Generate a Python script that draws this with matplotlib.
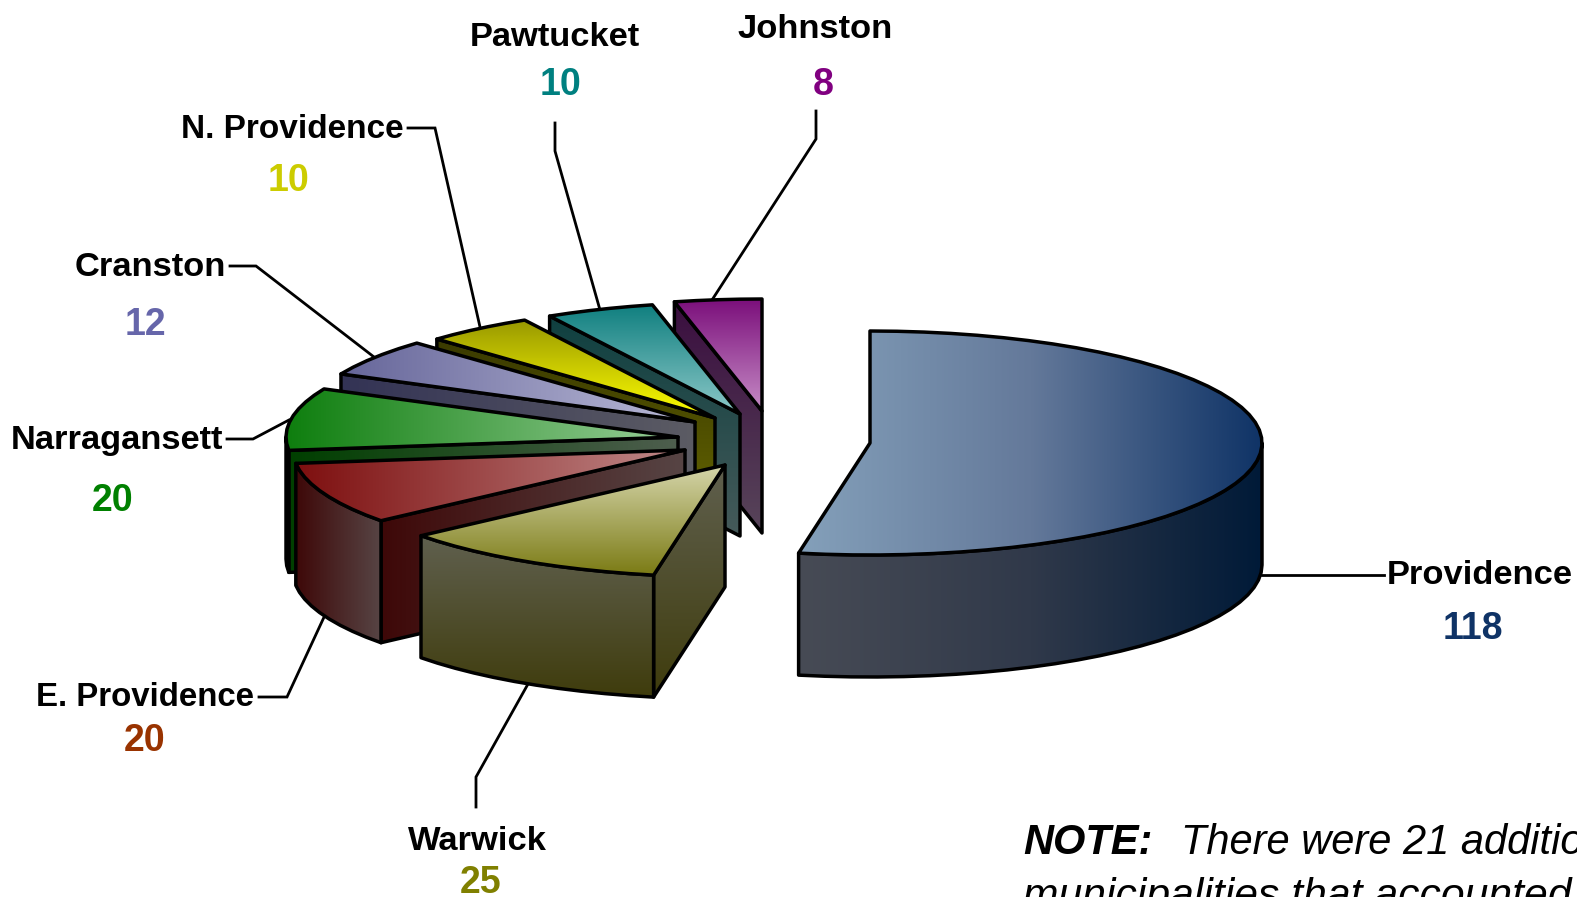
import numpy as np
import matplotlib
matplotlib.use("Agg")
import matplotlib.pyplot as plt
from matplotlib.colors import to_rgb
from matplotlib.patches import Polygon

# ---- data ----
names = ["Providence", "Warwick", "E. Providence", "Narragansett",
         "Cranston", "N. Providence", "Pawtucket", "Johnston"]
values = [118, 25, 20, 20, 12, 10, 10, 8]

# ---- styles (per slice) ----
apex = [(870, 443), (725, 465), (685, 450), (678, 437),
        (695, 422), (715, 418), (740, 414), (762, 411)]
direction = ["h", "v", "h", "h", "h", "v", "v", "v"]
top_cols = [("#84A0BA", "#64799A", "#0F3366"), ("#D6D6AC", "#7B7B14"), ("#7E0F0F", "#C08A8A"),
            ("#0E7E0E", "#98CE98"), ("#66669A", "#BBBBD8"), ("#999900", "#FFFF00"),
            ("#0F7F7F", "#8CC8C8"), ("#7B0F7B", "#C68CC6")]
wall_cols = [("#474B55", "#30394A", "#001A38"), ("#60604F", "#3F3C0C"), ("#3E0808", "#574545"),
             ("#003F00", "#4E5E4E"), ("#333355", "#5C5C64"), ("#3A3A00", "#6A6A00"),
             ("#0F4040", "#465A5A"), ("#3A0E3F", "#58455A")]
value_cols = ["#0F3366", "#808000", "#993300", "#008000",
              "#6666AA", "#CCCC00", "#008080", "#800080"]
name_sizes = [24.8, 24.8, 23.8, 24.8, 24.8, 24.0, 24.8, 24.8]
name_xy = [(1480, 576), (477, 842), (145, 698), (117, 441),
           (150, 268), (292, 130), (555, 38), (815, 30)]
value_xy = [(1473, 629), (481, 883), (145, 741), (113, 501),
            (145, 325), (289, 181), (561, 85), (823, 85)]
leaders = [[(1262, 575), (1384, 575)],
           [(476, 807), (476, 777), (528, 684)],
           [(259, 697), (287, 697), (325, 615)],
           [(227, 439), (253, 439), (289, 420)],
           [(230, 266), (256, 266), (374, 357)],
           [(408, 128), (435, 128), (480, 327)],
           [(555, 123), (555, 151), (600, 310)],
           [(816, 111), (816, 139), (712, 300)]]
RX, RY, DEPTH = 392, 112, 122
LW = 2.5
FONT = "Liberation Sans"

fig = plt.figure(figsize=(15.77, 8.97), dpi=100)
ax = fig.add_axes([0, 0, 1, 1])
ax.set_xlim(0, 1577)
ax.set_ylim(897, 0)
ax.axis("off")
ax.set_autoscale_on(False)


def gradient_poly(pts, cols, how, z):
    pts = np.asarray(pts)
    stops = np.array([to_rgb(c) for c in cols])
    pos = np.linspace(0, 1, len(cols))
    t = np.linspace(0, 1, 256)
    ramp = np.column_stack([np.interp(t, pos, stops[:, k]) for k in range(3)])
    img = ramp[None, :, :] if how == "h" else ramp[:, None, :]
    x0, x1, y0, y1 = pts[:, 0].min(), pts[:, 0].max(), pts[:, 1].min(), pts[:, 1].max()
    im = ax.imshow(img, extent=(x0, x1, y1, y0), aspect="auto",
                   interpolation="bilinear", zorder=z)
    clip = Polygon(pts, closed=True, transform=ax.transData)
    im.set_clip_path(clip)
    ax.add_patch(Polygon(pts, closed=True, fill=False, ec="black", lw=LW,
                         joinstyle="round", zorder=z + 0.1))


def arc(cx, cy, a, b, dy=0.0):
    n = max(2, int(abs(b - a) / 4) + 2)
    th = np.radians(np.linspace(a, b, n))
    return np.column_stack([cx + RX * np.sin(th), cy - RY * np.cos(th) + dy])


for pts in leaders:
    p = np.array(pts)
    ax.plot(p[:, 0], p[:, 1], color="black", lw=2.0, zorder=1,
            solid_joinstyle="miter")

edges = np.concatenate([[0], np.cumsum(values)]) / np.sum(values) * 360.0
draw_order = [7, 6, 5, 4, 3, 2, 1, 0]
z = 2
for i in draw_order:
    a, b = edges[i], edges[i + 1]
    cx, cy = apex[i]
    # wall along the first radial edge, when it faces the viewer
    if 180 < a < 360:
        e = arc(cx, cy, a, a)[0]
        wall = [(cx, cy), tuple(e), (e[0], e[1] + DEPTH), (cx, cy + DEPTH)]
        gradient_poly(wall, wall_cols[i], direction[i], z)
        z += 1
    # outer rim wall, for the front half
    ra, rb = max(a, 90), min(b, 270)
    if rb > ra:
        upper = arc(cx, cy, ra, rb)
        lower = arc(cx, cy, rb, ra, dy=DEPTH)
        gradient_poly(np.vstack([upper, lower]), wall_cols[i], direction[i], z)
        z += 1
    # top face
    top = np.vstack([[(cx, cy)], arc(cx, cy, a, b)])
    gradient_poly(top, top_cols[i], direction[i], z)
    z += 1

for n, v, nxy, vxy, col, fs in zip(names, values, name_xy, value_xy, value_cols, name_sizes):
    ax.text(*nxy, n, ha="center", va="center", fontsize=fs, fontweight="bold",
            family=FONT, color="black", zorder=50)
    ax.text(*vxy, str(v), ha="center", va="center", fontsize=27, fontweight="bold",
            family=FONT, color=col, zorder=50)

ax.text(1023, 854, "NOTE:", fontsize=30, fontweight="bold", style="italic",
        family=FONT, color="black", va="baseline", zorder=50)
ax.text(1181, 854, "There were 21 additional", fontsize=30, style="italic",
        family=FONT, color="black", va="baseline", zorder=50)
ax.text(1023, 908, "municipalities that accounted", fontsize=30.7, style="italic",
        family=FONT, color="black", va="baseline", zorder=50)

fig.savefig("out.png", dpi=100)
